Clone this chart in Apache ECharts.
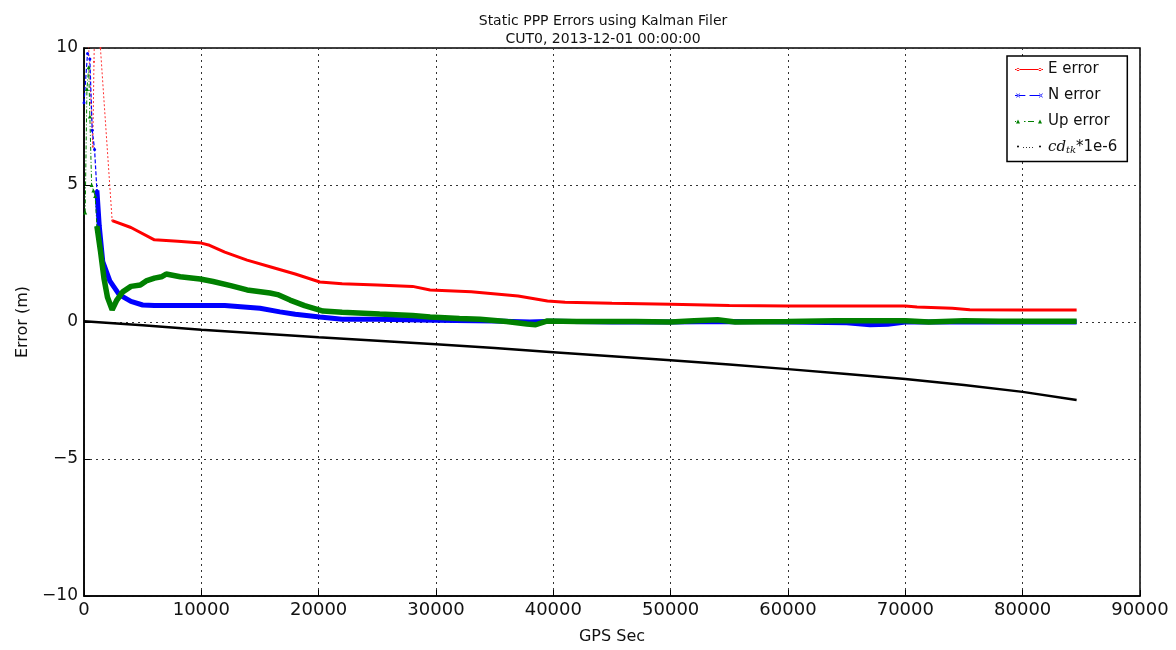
<!DOCTYPE html>
<html>
<head>
<meta charset="utf-8">
<title>Static PPP Errors</title>
<script src="https://cdn.jsdelivr.net/npm/echarts@6/dist/echarts.min.js"></script>
<style>
  html, body { margin: 0; padding: 0; background: #fff; }
  #main { width: 1176px; height: 650px; }
</style>
</head>
<body>
<div id="main"></div>
<script>
// x: GPS seconds, y: error in metres
var xTicks = [0, 10000, 20000, 30000, 40000, 50000, 60000, 70000, 80000, 90000];
var yTicks = [-10, -5, 0, 5, 10];

// early transient part (sparse samples, drawn thin)
var eEarlySec = [0, 300, 600, 750, 850, 1000, 1300, 1400, 2400];
var eEarlyVal = [14, 11, 8, 6.4, 9.5, 13, 11, 10, 3.7];
var nEarlySec = [0, 300, 500, 700, 900, 1100];
var nEarlyVal = [8, 9.8, 9.6, 7, 6.3, 4.8];
var upEarlySec = [100, 250, 400, 500, 650, 800, 950, 1100];
var upEarlyVal = [4, 8.5, 9.3, 7.5, 5, 4.8, 4.6, 3.5];

// converged part (dense samples, drawn thick)
var eSec = [2400, 4000, 6000, 8000, 10000, 10700, 12000, 13900, 16000, 18000, 20100, 22000, 25000, 28000, 29500, 33000, 37000, 39500, 41000, 45000, 50000, 55000, 60000, 65000, 70000, 71000, 74000, 75500, 80000, 84600];
var eVal = [3.7, 3.45, 3.0, 2.95, 2.88, 2.8, 2.55, 2.26, 2.0, 1.75, 1.46, 1.4, 1.35, 1.3, 1.17, 1.1, 0.95, 0.77, 0.72, 0.68, 0.65, 0.6, 0.58, 0.58, 0.58, 0.55, 0.5, 0.45, 0.44, 0.44];

var nSec = [1100, 1300, 1600, 2200, 3000, 4000, 5000, 6000, 9000, 12000, 13900, 15000, 16700, 18000, 20100, 22000, 25000, 30000, 35000, 38000, 40000, 45000, 50000, 55000, 60000, 65000, 67000, 68500, 70000, 75000, 80000, 84600];
var nVal = [4.8, 3.5, 2.2, 1.5, 1.0, 0.75, 0.62, 0.6, 0.6, 0.6, 0.54, 0.5, 0.37, 0.28, 0.18, 0.1, 0.1, 0.06, 0.04, 0.0, 0.03, 0.0, 0.0, 0.02, 0.0, -0.03, -0.1, -0.08, 0.0, 0.0, 0.0, 0.0];

var upSec = [1100, 1400, 1700, 2000, 2400, 2800, 3300, 4000, 4800, 5300, 6000, 6600, 7000, 8200, 9900, 11000, 12500, 13900, 15850, 16500, 17560, 18800, 20370, 22000, 25200, 28000, 29500, 32000, 33750, 36000, 37750, 38500, 39500, 42000, 47000, 50000, 52000, 54000, 55500, 60000, 64000, 67000, 70000, 72000, 75000, 78000, 84600];
var upVal = [3.5, 2.6, 1.6, 0.9, 0.45, 0.8, 1.1, 1.3, 1.35, 1.5, 1.6, 1.65, 1.75, 1.65, 1.57, 1.48, 1.33, 1.17, 1.06, 1.0, 0.8, 0.6, 0.4, 0.36, 0.29, 0.24, 0.18, 0.13, 0.1, 0.02, -0.07, -0.1, 0.04, 0.02, 0.02, 0.0, 0.05, 0.08, 0.0, 0.02, 0.05, 0.05, 0.05, 0.0, 0.05, 0.03, 0.03];

var clkSec = [0, 5000, 10000, 15000, 20000, 25000, 30000, 35000, 40000, 45000, 50000, 55000, 60000, 65000, 70000, 75000, 80000, 84600];
var clkVal = [0.03, -0.12, -0.28, -0.42, -0.56, -0.68, -0.81, -0.95, -1.1, -1.25, -1.4, -1.55, -1.72, -1.9, -2.08, -2.3, -2.55, -2.85];

function pairs(xs, ys) {
    var out = [];
    for (var i = 0; i < xs.length; i++) {
        out.push([xs[i], ys[i]]);
    }
    return out;
}

// legend icons like matplotlib: two markers joined by the line style
var iconE = 'path://M0,3.6h28v0.8h-28z M1.5,4a1.5,1.5 0 1,0 3,0a1.5,1.5 0 1,0 -3,0z M23.5,4a1.5,1.5 0 1,0 3,0a1.5,1.5 0 1,0 -3,0z';
var iconN = 'path://M0,3.5h10v1h-10z M14,3.5h10v1h-10z M1,2L1.8,2L5,6L4.2,6z M5,2L4.2,2L1,6L1.8,6z M23,2L23.8,2L27,6L26.2,6z M27,2L26.2,2L23,6L23.8,6z';
var iconUp = 'path://M0,3.5h1v1h-1z M1,6L3,2L5,6z M9,3.5h1.5v1h-1.5z M13,3.5h6v1h-6z M23,6L25,2L27,6z M28,3.5h0v1h0z';
var iconClk = 'path://M0,2h0v4h0z M2,3a1,1 0 1,0 2,0a1,1 0 1,0 -2,0z M8,3.6h0.8v0.8h-0.8z M11,3.6h0.8v0.8h-0.8z M14,3.6h0.8v0.8h-0.8z M17,3.6h0.8v0.8h-0.8z M24,3a1,1 0 1,0 2,0a1,1 0 1,0 -2,0z M28,2h0v4h0z';

var myChart = echarts.init(document.getElementById('main'));
var font = 'DejaVu Sans';

var option = {
    animation: false,
    backgroundColor: '#fff',
    title: {
        text: 'Static PPP Errors using Kalman Filer\nCUT0, 2013-12-01 00:00:00',
        left: 598,
        textAlign: 'center',
        top: 7,
        textStyle: {
            fontFamily: font,
            fontSize: 14,
            fontWeight: 'normal',
            color: '#111',
            lineHeight: 18
        }
    },
    grid: {
        left: 84,
        right: 36,
        top: 48,
        bottom: 54,
        show: true,
        borderColor: '#000',
        borderWidth: 1.5,
        containLabel: false
    },
    legend: {
        orient: 'vertical',
        left: 1007,
        top: 56,
        padding: [6, 10, 6, 8],
        itemGap: 11,
        itemWidth: 28,
        itemHeight: 12,
        borderColor: '#000',
        borderWidth: 1.5,
        backgroundColor: '#fff',
        data: [
            { name: 'E error', icon: iconE },
            { name: 'N error', icon: iconN },
            { name: 'Up error', icon: iconUp },
            { name: 'clk', icon: iconClk }
        ],
        formatter: function(name) {
            if (name === 'clk') {
                return '{i|cd}{s|tk}*1e-6';
            }
            return name;
        },
        textStyle: {
            fontFamily: font,
            fontSize: 15,
            color: '#111',
            rich: {
                i: { fontFamily: 'DejaVu Serif', fontStyle: 'italic', fontSize: 15, color: '#111' },
                s: { fontFamily: 'DejaVu Serif', fontStyle: 'italic', fontSize: 10, color: '#111', verticalAlign: 'bottom', padding: [6, 0, 0, 0] }
            }
        }
    },
    xAxis: {
        type: 'value',
        min: xTicks[0],
        max: xTicks[xTicks.length - 1],
        interval: 10000,
        name: 'GPS Sec',
        nameLocation: 'middle',
        nameGap: 33,
        nameTextStyle: { fontFamily: font, fontSize: 16, color: '#111' },
        axisLine: { show: true, onZero: false, lineStyle: { color: '#000', width: 1.5 } },
        axisTick: { show: true, inside: true, length: 6, lineStyle: { color: '#000' } },
        axisLabel: {
            fontFamily: font,
            fontSize: 18,
            color: '#111',
            margin: 5,
            showMaxLabel: true,
            showMinLabel: true,
            formatter: function(v) {
                return String(v);
            }
        },
        splitLine: { show: true, lineStyle: { color: '#333', type: [2, 4], width: 1 } }
    },
    yAxis: {
        type: 'value',
        min: yTicks[0],
        max: yTicks[yTicks.length - 1],
        interval: 5,
        name: 'Error (m)',
        nameLocation: 'middle',
        nameGap: 52,
        nameTextStyle: { fontFamily: font, fontSize: 16, color: '#111' },
        axisLine: { show: true, onZero: false, lineStyle: { color: '#000', width: 1.5 } },
        axisTick: { show: true, inside: true, length: 6, lineStyle: { color: '#000' } },
        axisLabel: {
            fontFamily: font,
            fontSize: 17,
            color: '#111',
            margin: 6,
            formatter: function(v) {
                return v < 0 ? '\u2212' + Math.abs(v) : String(v);
            }
        },
        splitLine: { show: true, lineStyle: { color: '#333', type: [2, 4], width: 1 } }
    },
    series: [{
        name: 'E error',
        type: 'line',
        data: pairs(eSec, eVal),
        showSymbol: false,
        lineStyle: { color: '#ff0000', width: 3 },
        itemStyle: { color: '#ff0000' },
        z: 3
    }, {
        name: 'E early',
        type: 'line',
        data: pairs(eEarlySec, eEarlyVal),
        symbol: 'circle',
        symbolSize: 2,
        lineStyle: { color: '#ff3333', width: 1, type: [2, 2] },
        itemStyle: { color: '#ff3333' },
        z: 3
    }, {
        name: 'N error',
        type: 'line',
        data: pairs(nSec, nVal),
        showSymbol: false,
        lineStyle: { color: '#0000ff', width: 5 },
        itemStyle: { color: '#0000ff' },
        z: 4
    }, {
        name: 'N early',
        type: 'line',
        data: pairs(nEarlySec, nEarlyVal),
        symbol: 'circle',
        symbolSize: 3,
        lineStyle: { color: '#0000ff', width: 1.2, type: [4, 2] },
        itemStyle: { color: '#0000ff' },
        z: 4
    }, {
        name: 'Up error',
        type: 'line',
        data: pairs(upSec, upVal),
        showSymbol: false,
        lineStyle: { color: '#008000', width: 5.5 },
        itemStyle: { color: '#008000' },
        z: 5
    }, {
        name: 'Up early',
        type: 'line',
        data: pairs(upEarlySec, upEarlyVal),
        symbol: 'triangle',
        symbolSize: 4,
        lineStyle: { color: '#008000', width: 1, type: [4, 2, 1, 2] },
        itemStyle: { color: '#008000' },
        z: 5
    }, {
        name: 'clk',
        type: 'line',
        data: pairs(clkSec, clkVal),
        showSymbol: false,
        lineStyle: { color: '#000', width: 2.5 },
        itemStyle: { color: '#000' },
        z: 2
    }]
};

myChart.setOption(option);
</script>
</body>
</html>
